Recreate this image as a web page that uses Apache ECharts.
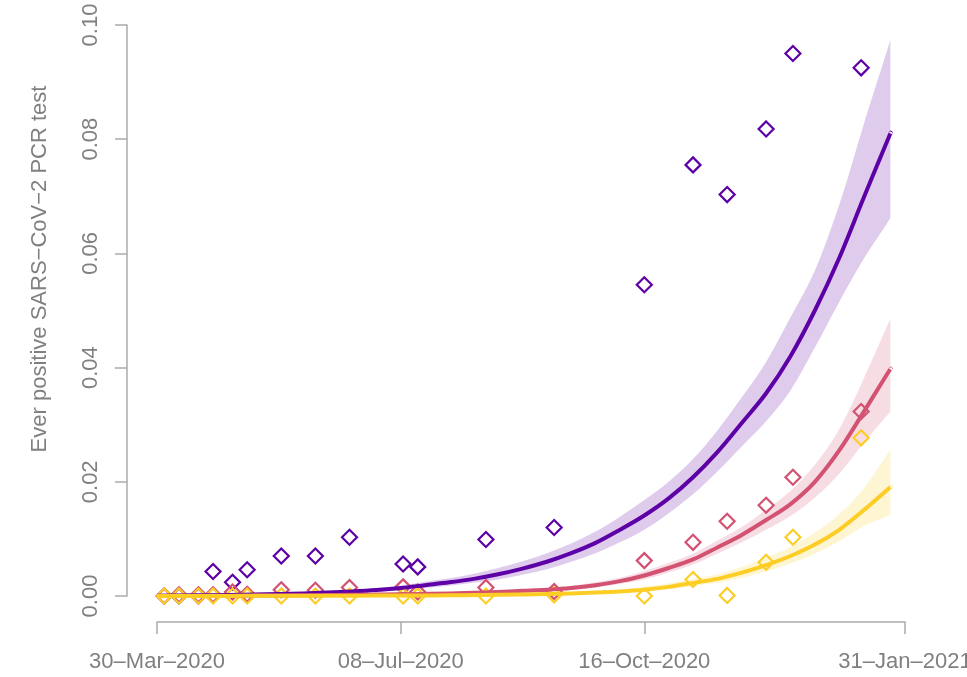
<!DOCTYPE html>
<html>
<head>
<meta charset="utf-8">
<script src="https://cdn.jsdelivr.net/npm/echarts@6/dist/echarts.min.js"></script>
<style>html,body{margin:0;padding:0;background:#fff;overflow:hidden}#chart{position:absolute;left:0;top:0;width:967px;height:677px}</style>
</head>
<body>
<div id="chart"></div>
<script>
// ---- Data ----
const originDate = '2020-03-30';
const xTickDates = ['2020-03-30', '2020-07-08', '2020-10-16', '2021-01-31'];
const yTicks = [0, 0.02, 0.04, 0.06, 0.08, 0.10];
const yTitle = 'Ever positive SARS\u2212CoV\u22122 PCR test';

// observation dates
const obsDates = ['2020-04-02','2020-04-08','2020-04-16','2020-04-22','2020-04-30','2020-05-06','2020-05-20','2020-06-03','2020-06-17','2020-07-09','2020-07-15','2020-08-12','2020-09-09','2020-10-16','2020-11-05','2020-11-19','2020-12-05','2020-12-16','2021-01-13'];
const obsPurple = [0.0000,0.0000,0.0000,0.0043,0.0024,0.0046,0.0070,0.0070,0.0103,0.0056,0.0051,0.0099,0.0120,0.0545,0.0755,0.0703,0.0818,0.0950,0.0925];
const obsRed    = [0.0000,0.0002,0.0002,0.0002,0.0007,0.0003,0.0011,0.0010,0.0015,0.0016,0.0007,0.0015,0.0008,0.0062,0.0094,0.0131,0.0159,0.0208,0.0323];
const obsYellow = [0.0000,0.0000,0.0000,0.0000,0.0000,0.0000,0.0000,0.0000,0.0000,0.0000,0.0000,0.0000,0.0002,0.0000,0.0029,0.0001,0.0059,0.0103,0.0277];

// fitted curve dates
const fitDates = ['2020-03-30','2020-04-09','2020-04-19','2020-04-29','2020-05-09','2020-05-19','2020-05-29','2020-06-08','2020-06-18','2020-06-28','2020-07-08','2020-07-18','2020-07-28','2020-08-07','2020-08-17','2020-08-27','2020-09-06','2020-09-16','2020-09-26','2020-10-06','2020-10-16','2020-10-26','2020-11-05','2020-11-15','2020-11-25','2020-12-05','2020-12-15','2020-12-25','2021-01-04','2021-01-14','2021-01-24','2021-01-25'];
const fitPurple   = [0.00005,0.0001,0.00013,0.00018,0.00025,0.00034,0.00045,0.0006,0.0008,0.00105,0.0014,0.0019,0.0024,0.0030,0.0038,0.0048,0.0060,0.0075,0.0093,0.0116,0.0141,0.0171,0.0208,0.0252,0.0303,0.0355,0.0420,0.0500,0.0592,0.0697,0.0800,0.0810];
const lowPurple   = [0.00003,0.00006,0.00008,0.00011,0.00016,0.00022,0.0003,0.0004,0.00055,0.00073,0.001,0.0014,0.0018,0.0023,0.0029,0.0037,0.0047,0.0060,0.0075,0.0094,0.0116,0.0145,0.0178,0.0218,0.0262,0.0306,0.0360,0.0435,0.0515,0.0590,0.0655,0.0664];
const highPurple  = [0.00008,0.00014,0.00019,0.00026,0.00035,0.00047,0.00062,0.0008,0.00106,0.0014,0.0018,0.0025,0.0031,0.0039,0.0049,0.0061,0.0075,0.0092,0.0113,0.0139,0.0168,0.0200,0.0240,0.0290,0.0348,0.0410,0.0488,0.0570,0.0685,0.0825,0.0960,0.0975];
const fitRed      = [0.00002,0.00003,0.00004,0.00005,0.00007,0.00009,0.00012,0.00016,0.0002,0.00025,0.0003,0.00037,0.00045,0.00056,0.0007,0.0009,0.0011,0.0014,0.0019,0.0026,0.0036,0.0049,0.0064,0.0085,0.0107,0.0133,0.0161,0.0200,0.0255,0.0322,0.0391,0.0397];
const lowRed      = [0.00001,0.000015,0.00002,0.00003,0.00004,0.00005,0.00007,0.00009,0.00012,0.00016,0.0002,0.00025,0.0003,0.0004,0.0005,0.00065,0.0008,0.0011,0.0015,0.0021,0.0029,0.0041,0.0055,0.0074,0.0094,0.0116,0.0140,0.0172,0.0214,0.0268,0.0318,0.0322];
const highRed     = [0.00004,0.00005,0.00007,0.00009,0.00011,0.00014,0.00018,0.00023,0.00029,0.00035,0.00042,0.0005,0.0006,0.00075,0.0009,0.0011,0.0014,0.0018,0.0024,0.0032,0.0044,0.0058,0.0074,0.0097,0.0121,0.0151,0.0184,0.0230,0.0292,0.0380,0.0476,0.0483];
const fitYellow   = [0.00001,0.00001,0.00002,0.00002,0.00003,0.00003,0.00004,0.00005,0.00006,0.00007,0.00008,0.0001,0.00012,0.00016,0.0002,0.00027,0.00035,0.00045,0.0006,0.0008,0.0011,0.0016,0.0023,0.0030,0.0041,0.0054,0.0070,0.0090,0.0116,0.0150,0.0187,0.0191];
const lowYellow   = [0,0,0.00001,0.00001,0.00001,0.00001,0.00002,0.00002,0.00003,0.00003,0.00004,0.00005,0.00007,0.00009,0.00012,0.00016,0.00022,0.0003,0.0004,0.00055,0.0008,0.0012,0.0017,0.0023,0.0032,0.0043,0.0057,0.0074,0.0096,0.0122,0.0140,0.0142];
const highYellow  = [0.00003,0.00004,0.00005,0.00006,0.00006,0.00007,0.00008,0.0001,0.00011,0.00012,0.00014,0.00017,0.0002,0.00025,0.0003,0.0004,0.0005,0.00063,0.0008,0.0011,0.0016,0.0022,0.0030,0.0038,0.0051,0.0067,0.0086,0.0111,0.0143,0.0188,0.0250,0.0256];

// ---- Helpers ----
const MONTHS = ['Jan','Feb','Mar','Apr','May','Jun','Jul','Aug','Sep','Oct','Nov','Dec'];
function toDay(s){
  const p = s.split('-').map(Number), o = originDate.split('-').map(Number);
  return Math.round((Date.UTC(p[0],p[1]-1,p[2]) - Date.UTC(o[0],o[1]-1,o[2])) / 86400000);
}
function dayLabel(d){
  const o = originDate.split('-').map(Number);
  const dt = new Date(Date.UTC(o[0],o[1]-1,o[2]) + Math.round(d)*86400000);
  const dd = String(dt.getUTCDate()).padStart(2,'0');
  return dd + '\u2013' + MONTHS[dt.getUTCMonth()] + '\u2013' + dt.getUTCFullYear();
}
const xTicks = xTickDates.map(toDay);
const fitX = fitDates.map(toDay);
const obsX = obsDates.map(toDay);
const pairs = (xs, ys) => xs.map((x,i)=>[x, ys[i]]);

const COL = { purple:'#5D01A6', red:'#D35171', yellow:'#FCCE25' };
const BAND = { purple:'rgba(93,1,166,0.2)', red:'rgba(211,81,113,0.2)', yellow:'rgba(252,206,37,0.2)' };

// smooth path (Catmull-Rom -> cubic Bezier)
function crSegs(pts){
  let d = '';
  for (let i=0;i<pts.length-1;i++){
    const p0 = pts[Math.max(i-1,0)], p1 = pts[i], p2 = pts[i+1], p3 = pts[Math.min(i+2,pts.length-1)];
    const t = 1/6;
    const c1 = [p1[0] + (p2[0]-p0[0])*t, p1[1] + (p2[1]-p0[1])*t];
    const c2 = [p2[0] - (p3[0]-p1[0])*t, p2[1] - (p3[1]-p1[1])*t];
    d += ' C' + c1[0] + ',' + c1[1] + ' ' + c2[0] + ',' + c2[1] + ' ' + p2[0] + ',' + p2[1];
  }
  return d;
}
function bandSeries(low, high, fill){
  return {
    type:'custom', coordinateSystem:'cartesian2d', silent:true, z:1,
    data:[[fitX[0], low[0]]],
    encode:{x:0, y:1},
    renderItem:function(params, api){
      const up = [], dn = [];
      for (let i=0;i<fitX.length;i++) up.push(api.coord([fitX[i], high[i]]));
      for (let i=fitX.length-1;i>=0;i--) dn.push(api.coord([fitX[i], low[i]]));
      const d = 'M' + up[0][0] + ',' + up[0][1] + crSegs(up) + ' L' + dn[0][0] + ',' + dn[0][1] + crSegs(dn) + ' Z';
      return {type:'path', shape:{pathData:d}, style:{fill:fill, stroke:null}};
    }
  };
}
function lineSeries(ys, col){
  return {
    type:'custom', coordinateSystem:'cartesian2d', silent:true, z:4,
    data:[[fitX[0], ys[0]]],
    encode:{x:0, y:1},
    renderItem:function(params, api){
      const pts = fitX.map((x,i)=>api.coord([x, ys[i]]));
      const d = 'M' + pts[0][0] + ',' + pts[0][1] + crSegs(pts);
      return {type:'path', shape:{pathData:d}, style:{fill:null, stroke:col, lineWidth:4, lineJoin:'round', lineCap:'butt'}};
    }
  };
}
function scatterSeries(ys, col){
  return { type:'scatter', data:pairs(obsX, ys), symbol:'diamond', symbolSize:[15,15], z:3,
    itemStyle:{color:'rgba(255,255,255,0)', borderColor:col, borderWidth:2.2, opacity:1}, silent:true };
}

const textCol = '#808080';
const axisCol = '#ABABAB';
const FONT = 'Liberation Sans, Arial, sans-serif';

const option = {
  animation:false,
  backgroundColor:'#fff',
  grid:{left:157, right:62, top:25, bottom:81, containLabel:false, outerBoundsMode:'none'},
  xAxis:{
    type:'value', min:0, max:307, offset:26,
    axisLine:{show:true, onZero:false, lineStyle:{color:axisCol, width:1.5}},
    axisTick:{show:true, length:12, lineStyle:{color:axisCol, width:1.5}, customValues:xTicks},
    axisLabel:{color:textCol, fontSize:22, fontFamily:FONT, margin:29,
      customValues:xTicks, formatter:(v)=>dayLabel(v)},
    splitLine:{show:false}
  },
  yAxis:{
    type:'value', min:0, max:0.1, interval:0.02, offset:30,
    axisLine:{show:true, onZero:false, lineStyle:{color:axisCol, width:1.5}},
    axisTick:{show:true, length:12, lineStyle:{color:axisCol, width:1.5}},
    axisLabel:{color:textCol, fontSize:22, fontFamily:FONT, rotate:90, margin:25,
      customValues:yTicks, formatter:(v)=>v.toFixed(2)},
    splitLine:{show:false}
  },
  graphic:[{
    type:'text', x:40, y:269, rotation:Math.PI/2,
    style:{text:yTitle, fill:textCol, font:'22px "Liberation Sans", Arial, sans-serif', align:'center', verticalAlign:'middle'}
  }],
  series:[
    bandSeries(lowPurple, highPurple, BAND.purple),
    bandSeries(lowRed, highRed, BAND.red),
    bandSeries(lowYellow, highYellow, BAND.yellow),
    scatterSeries(obsPurple, COL.purple),
    scatterSeries(obsRed, COL.red),
    scatterSeries(obsYellow, COL.yellow),
    lineSeries(fitPurple, COL.purple),
    lineSeries(fitRed, COL.red),
    lineSeries(fitYellow, COL.yellow)
  ]
};
const chart = echarts.init(document.getElementById('chart'), null, {renderer:'canvas', width:967, height:677});
chart.setOption(option);
</script>
</body>
</html>
